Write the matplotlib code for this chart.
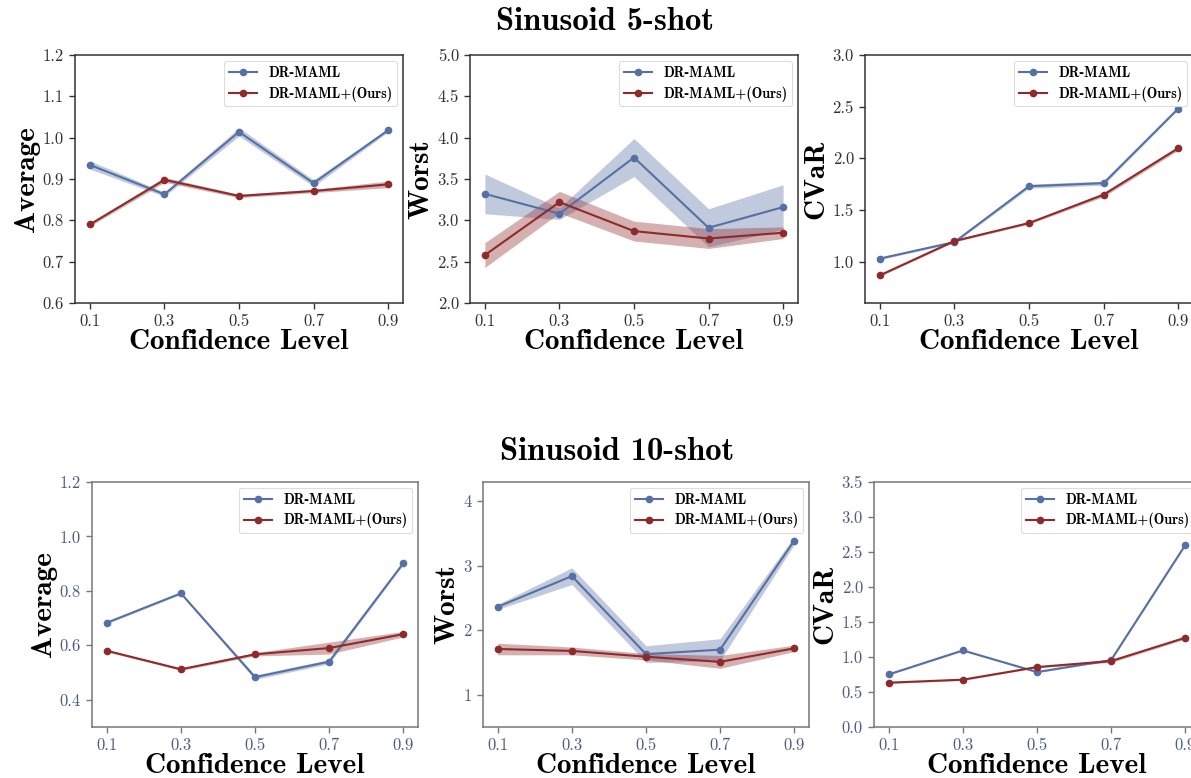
import matplotlib
matplotlib.use('Agg')
import matplotlib.pyplot as plt
import numpy as np

plt.rcParams['font.family'] = 'cmr10'
plt.rcParams['axes.formatter.use_mathtext'] = True

levels = [0.1, 0.3, 0.5, 0.7, 0.9]
names = ['DR-MAML', 'DR-MAML+(Ours)']
metrics = ['Average', 'Worst', 'CVaR']

# Sinusoid 5-shot: mean and band half-width for each method
avg5_base = [0.934, 0.863, 1.014, 0.890, 1.018]
avg5_base_sd = [0.010, 0.005, 0.010, 0.008, 0.004]
avg5_ours = [0.790, 0.898, 0.859, 0.871, 0.887]
avg5_ours_sd = [0.004, 0.006, 0.004, 0.004, 0.008]

worst5_base = [3.32, 3.08, 3.76, 2.91, 3.16]
worst5_base_sd = [0.24, 0.07, 0.23, 0.23, 0.27]
worst5_ours = [2.58, 3.22, 2.87, 2.78, 2.85]
worst5_ours_sd = [0.15, 0.13, 0.12, 0.12, 0.07]

cvar5_base = [1.03, 1.19, 1.73, 1.76, 2.48]
cvar5_base_sd = [0.01, 0.01, 0.02, 0.02, 0.01]
cvar5_ours = [0.868, 1.20, 1.374, 1.648, 2.097]
cvar5_ours_sd = [0.01, 0.01, 0.01, 0.02, 0.02]

# Sinusoid 10-shot
avg10_base = [0.683, 0.791, 0.483, 0.540, 0.901]
avg10_base_sd = [0.004, 0.004, 0.008, 0.008, 0.005]
avg10_ours = [0.580, 0.512, 0.567, 0.590, 0.641]
avg10_ours_sd = [0.004, 0.004, 0.006, 0.022, 0.010]

worst10_base = [2.365, 2.84, 1.63, 1.70, 3.39]
worst10_base_sd = [0.04, 0.13, 0.13, 0.17, 0.06]
worst10_ours = [1.71, 1.68, 1.59, 1.51, 1.72]
worst10_ours_sd = [0.09, 0.06, 0.05, 0.10, 0.05]

cvar10_base = [0.752, 1.094, 0.785, 0.956, 2.597]
cvar10_base_sd = [0.01, 0.01, 0.01, 0.01, 0.01]
cvar10_ours = [0.633, 0.676, 0.856, 0.942, 1.275]
cvar10_ours_sd = [0.01, 0.01, 0.01, 0.02, 0.02]

rows = [
    [(avg5_base, avg5_base_sd, avg5_ours, avg5_ours_sd),
     (worst5_base, worst5_base_sd, worst5_ours, worst5_ours_sd),
     (cvar5_base, cvar5_base_sd, cvar5_ours, cvar5_ours_sd)],
    [(avg10_base, avg10_base_sd, avg10_ours, avg10_ours_sd),
     (worst10_base, worst10_base_sd, worst10_ours, worst10_ours_sd),
     (cvar10_base, cvar10_base_sd, cvar10_ours, cvar10_ours_sd)],
]
titles = ['Sinusoid 5-shot', 'Sinusoid 10-shot']

ylims = [[(0.6, 1.2), (2.0, 5.0), (0.6, 3.0)],
         [(0.3, 1.2), (0.5, 4.3), (0.0, 3.5)]]
yticks = [[np.arange(0.6, 1.21, 0.1), np.arange(2.0, 5.01, 0.5), np.arange(1.0, 3.01, 0.5)],
          [np.arange(0.4, 1.21, 0.2), [1, 2, 3, 4], np.arange(0.0, 3.51, 0.5)]]
yfmt = [['%.1f', '%.1f', '%.1f'], ['%.1f', '%d', '%.1f']]

blue = '#5770a4'
red = '#8f2a2c'

W, H = 1191, 778
fig = plt.figure(figsize=(W / 100, H / 100), dpi=100)

# axes boxes in pixels: left, top, width, height
boxes = [[(75, 55, 328, 248), (470, 55, 328, 248), (865, 55, 328, 248)],
         [(92, 482, 326, 245), (483, 482, 326, 245), (874, 482, 326, 245)]]
spine_col = ['#333333', '#777777']
tick_col = ['#333333', '#4e5c80']

for r in range(2):
    for c in range(3):
        l, t, w, h = boxes[r][c]
        ax = fig.add_axes([l / W, 1 - (t + h) / H, w / W, h / H])
        base, base_sd, ours, ours_sd = rows[r][c]
        for m, sd, col, lab in [(base, base_sd, blue, names[0]),
                                (ours, ours_sd, red, names[1])]:
            m = np.array(m)
            sd = np.array(sd)
            ax.fill_between(levels, m - sd, m + sd, color=col, alpha=0.37, lw=0)
            ax.plot(levels, m, color=col, lw=1.5, marker='o', ms=4.5, label=lab)
        ax.set_ylim(*ylims[r][c])
        ax.set_yticks(yticks[r][c])
        ax.set_yticklabels([yfmt[r][c] % v for v in yticks[r][c]])
        ax.set_xticks(levels)
        ax.set_xticklabels(['0.1', '0.3', '0.5', '0.7', '0.9'])
        ax.tick_params(labelsize=12, colors=spine_col[r], labelcolor=tick_col[r],
                       length=4, width=1, pad=4)
        for s in ax.spines.values():
            s.set_color(spine_col[r])
            s.set_linewidth(1.1)
        ax.set_xlabel('Confidence Level', family='cmb10', fontsize=21, labelpad=0)
        ax.set_ylabel(metrics[c], family='cmb10', fontsize=21, labelpad=2)
        leg = ax.legend(loc='upper right', prop={'family': 'cmb10', 'size': 10.2},
                        frameon=True, fancybox=True, framealpha=1,
                        borderpad=0.35, labelspacing=0.45, handlelength=2.0,
                        borderaxespad=0.4)
        leg.get_frame().set_edgecolor('#dddddd')
        leg.get_frame().set_linewidth(0.8)

fig.text(605 / W, 1 - 21 / H, titles[0], family='cmb10', fontsize=23.5,
         ha='center', va='center')
fig.text(617 / W, 1 - 452 / H, titles[1], family='cmb10', fontsize=23.5,
         ha='center', va='center')

plt.savefig('out.png', dpi=100)
